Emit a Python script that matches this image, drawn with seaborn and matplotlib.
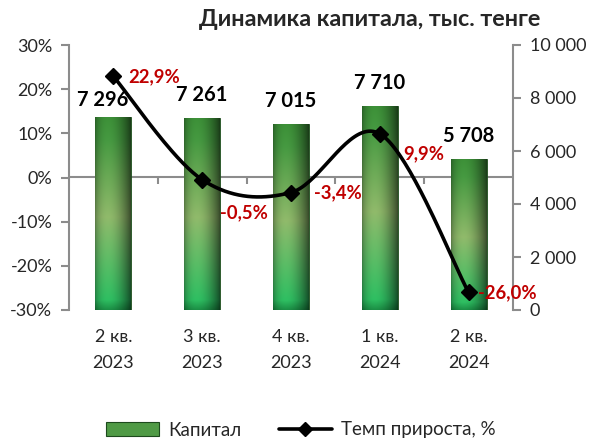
import numpy as np
import pandas as pd
import matplotlib
matplotlib.use("Agg")
import matplotlib.pyplot as plt
import seaborn as sns
from matplotlib.lines import Line2D
from matplotlib.patches import Patch

# ---- data ----
categories = ["2 кв.\n2023", "3 кв.\n2023", "4 кв.\n2023", "1 кв.\n2024", "2 кв.\n2024"]
capital = [7296, 7261, 7015, 7710, 5708]
growth = [22.9, -0.5, -3.4, 9.9, -26.0]
left_ticks = [-30, -20, -10, 0, 10, 20, 30]
right_ticks = [0, 2000, 4000, 6000, 8000, 10000]
title = "Динамика капитала, тыс. тенге"
bar_name = "Капитал"
line_name = "Темп прироста, %"

sns.set_style("white")
FONT = ["Lato", "DejaVu Sans"]
plt.rcParams["font.family"] = FONT

GRAY = "#8c8c8c"
RED = "#c00000"
TICK_FS = 13

fig = plt.figure(figsize=(5.95, 4.41), dpi=100)
axb = fig.add_axes([69 / 595, 131 / 441, 444 / 595, 265 / 441])
df = pd.DataFrame({"cat": categories, "cap": capital})
sns.barplot(data=df, x="cat", y="cap", ax=axb, width=0.405, color="#3f8f3a",
            edgecolor="#1d4a1d", linewidth=0.6, saturation=1)

# gradient fill for bars
H, W = 200, 60
t = np.linspace(0, 1, H)[:, None]
stops_t = [0.0, 0.05, 0.48, 0.88, 1.0]
stops_c = np.array([[0.12, 0.62, 0.30], [0.20, 0.82, 0.42], [0.62, 0.80, 0.46],
                    [0.30, 0.66, 0.28], [0.26, 0.62, 0.24]])
vert = np.stack([np.interp(t[:, 0], stops_t, stops_c[:, k]) for k in range(3)], axis=-1)
u = np.linspace(0, 1, W)
fac = (0.6 + 0.5 * np.sin(np.pi * u) ** 0.7) * (1 - 0.4 * u)
img = np.clip(vert[:, None, :] * fac[None, :, None], 0, 1)
for p in axb.patches:
    x0, y0, w, h = p.get_x(), p.get_y(), p.get_width(), p.get_height()
    im = axb.imshow(img, extent=[x0, x0 + w, y0, y0 + h], origin="lower",
                    aspect="auto", zorder=p.get_zorder() + 0.1)
    im.set_clip_path(p)
axb.set_xlim(-0.5, len(categories) - 0.5)
axb.set_ylim(right_ticks[0], right_ticks[-1])

# zero (category) axis line at 0% level, behind bars
lo, hi = left_ticks[0], left_ticks[-1]
zero_y = right_ticks[0] + (0 - lo) / (hi - lo) * (right_ticks[-1] - right_ticks[0])
axb.axhline(zero_y, color=GRAY, lw=1.5, zorder=0.5)
axb.vlines(np.arange(len(categories) - 1) + 0.5, zero_y - 230, zero_y, color=GRAY, lw=1.5, zorder=0.5)

# ---- line axis ----
axl = axb.twinx()
axl.set_ylim(lo, hi)
axl.set_xlim(-0.5, len(categories) - 0.5)

# restore tick sides after twinx
axb.yaxis.tick_right()
axl.yaxis.tick_left()

axb.set_yticks(right_ticks)
axb.set_yticklabels([f"{v:,}".replace(",", " ") for v in right_ticks])
axb.set_xlabel("")
axb.set_ylabel("")
axb.tick_params(axis="y", direction="out", length=6, width=1.5, color=GRAY,
                labelsize=TICK_FS, pad=6)
axb.tick_params(axis="x", length=0, labelsize=TICK_FS, pad=14)
for lbl in axb.get_xticklabels():
    lbl.set_linespacing(1.75)
for s in ["top", "bottom", "left"]:
    axb.spines[s].set_visible(False)
axb.spines["right"].set_color(GRAY)
axb.spines["right"].set_linewidth(1.5)

axl.set_yticks(left_ticks)
axl.set_yticklabels([f"{v}%" for v in left_ticks])
axl.tick_params(axis="y", direction="out", length=6, width=1.5, color=GRAY,
                labelsize=TICK_FS, pad=6)
for s in ["top", "bottom", "right"]:
    axl.spines[s].set_visible(False)
axl.spines["left"].set_color(GRAY)
axl.spines["left"].set_linewidth(1.5)

# smoothed line (Excel-style Bezier)
xs = np.arange(len(growth), dtype=float)
ys = np.array(growth, dtype=float)
P = np.column_stack([xs, ys])
curve = []
tt = np.linspace(0, 1, 40)[:, None]
for i in range(len(P) - 1):
    p0 = P[i - 1] if i > 0 else P[i]
    p1, p2 = P[i], P[i + 1]
    p3 = P[i + 2] if i + 2 < len(P) else P[i + 1]
    c1 = p1 + (p2 - p0) / 6
    c2 = p2 - (p3 - p1) / 6
    seg = ((1 - tt) ** 3) * p1 + 3 * ((1 - tt) ** 2) * tt * c1 + 3 * (1 - tt) * tt ** 2 * c2 + tt ** 3 * p2
    curve.append(seg)
curve = np.vstack(curve)
cdf = pd.DataFrame({"x": curve[:, 0], "y": curve[:, 1]})
sns.lineplot(data=cdf, x="x", y="y", ax=axl, color="black", lw=2.6, sort=False, estimator=None)
axl.plot(xs, ys, ls="none", marker="D", ms=8, color="black")
axl.set_xlim(-0.5, len(categories) - 0.5)
axl.set_xlabel("")
axl.set_ylabel("")

# bar value labels (drawn on top layer, in bar-axis data coordinates)
bar_off = [(-11, 17), (-1, 23), (0, 23), (0, 23), (0, 23)]
for i, v in enumerate(capital):
    axl.annotate(f"{v:,}".replace(",", " "), (i, v), xycoords=axb.transData, xytext=bar_off[i],
                 textcoords="offset pixels", ha="center", va="center",
                 fontsize=14.5, fontweight="bold", color="black", zorder=5)

pct_off = [(15, 0), (18, -33), (23, 0), (23, -20), (9, 0)]
for i, v in enumerate(growth):
    axl.annotate(f"{v:.1f}%".replace(".", ","), (xs[i], v), xytext=pct_off[i],
                 textcoords="offset pixels", ha="left", va="center",
                 fontsize=13.3, fontweight="bold", color=RED, zorder=5)

fig.text(370 / 595, 1 - 20 / 441, title, ha="center", va="center",
         fontsize=16.8, fontweight="bold")

handles = [Patch(facecolor="#4f9a45", edgecolor="#1d4a1d", lw=0.8),
           Line2D([0], [0], color="black", lw=2.6, marker="D", ms=7)]
fig.legend(handles, [bar_name, line_name], loc="center", bbox_to_anchor=(301 / 595, 1 - 430 / 441),
           ncol=2, frameon=False, fontsize=13.5, handlelength=2.8, handleheight=0.7,
           columnspacing=2.0, handletextpad=0.5)

fig.savefig("out.png", dpi=100)
